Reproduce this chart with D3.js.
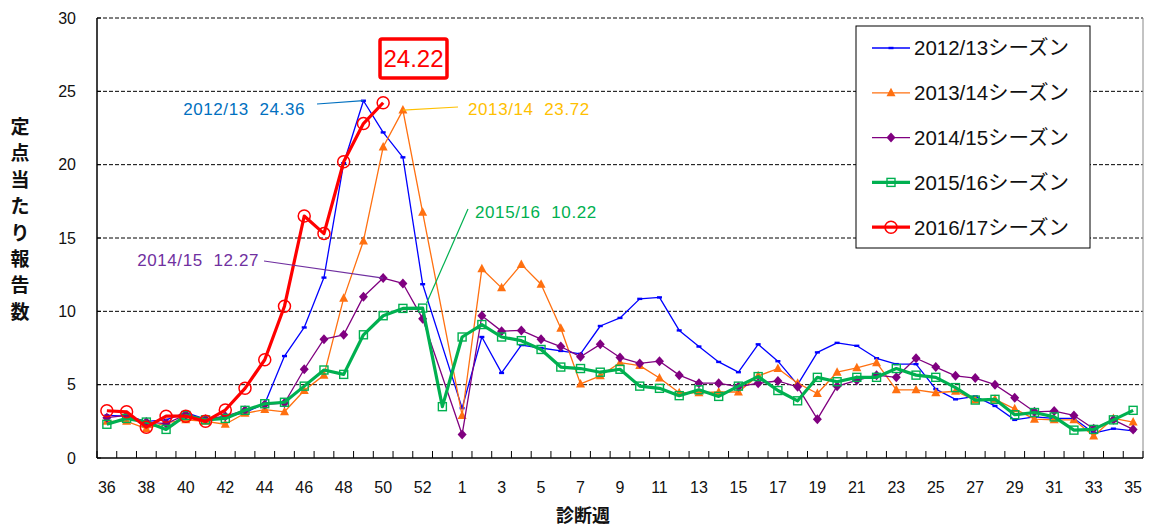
<!DOCTYPE html>
<html>
<head>
<meta charset="utf-8">
<script src="https://cdn.jsdelivr.net/npm/d3@7"></script>
<style>
  body { margin: 0; background: #fff; }
  svg { display: block; }
  text { font-family: "Liberation Sans", "Noto Sans CJK JP", sans-serif; }
</style>
</head>
<body>
<div id="chart"></div>
<script>
// week categories (2015/16 season had a week 53)
const weeks = ["36","37","38","39","40","41","42","43","44","45","46","47","48","49","50","51","52","53",
  "1","2","3","4","5","6","7","8","9","10","11","12","13","14","15","16","17","18","19","20",
  "21","22","23","24","25","26","27","28","29","30","31","32","33","34","35"];

const yTicks = [0, 5, 10, 15, 20, 25, 30];

// values per week, null = no report for that week
const s1213 = [2.9,2.85,2.5,2.6,3.1,2.65,2.8,3.1,3.7,6.95,8.9,12.3,20.1,24.36,22.2,20.5,11.85,null,
  3.4,8.25,5.8,7.7,7.5,7.3,7.1,9.0,9.55,10.85,10.95,8.7,7.6,6.55,5.85,7.75,6.6,5.0,7.2,7.85,
  7.65,6.8,6.4,6.4,4.7,4.0,4.2,3.55,2.6,2.8,2.7,2.7,1.7,2.0,1.85];
const s1314 = [2.5,2.5,2.0,2.4,2.6,2.5,2.3,3.05,3.3,3.15,4.6,5.65,10.9,14.8,21.2,23.72,16.75,null,
  2.9,12.9,11.6,13.2,11.85,8.85,5.05,5.6,6.5,6.3,5.45,4.45,4.45,4.5,4.5,5.6,6.1,5.1,4.4,5.85,
  6.15,6.5,4.65,4.65,4.45,4.55,3.95,4.0,3.35,2.65,2.6,2.6,1.5,2.7,2.45];
const s1415 = [2.75,2.9,2.45,2.35,2.95,2.65,2.85,3.25,3.65,3.75,6.05,8.1,8.4,11.0,12.27,11.9,9.5,null,
  1.6,9.7,8.65,8.7,8.1,7.6,6.9,7.75,6.85,6.45,6.6,5.65,5.1,5.1,4.85,5.1,5.25,4.85,2.65,4.9,
  5.3,5.65,5.5,6.8,6.2,5.6,5.45,5.0,4.1,3.15,3.2,2.9,2.0,2.6,1.95];
const s1516 = [2.3,2.7,2.45,1.95,2.9,2.6,2.7,3.25,3.7,3.8,4.9,6.0,5.7,8.4,9.7,10.2,10.22,3.5,
  8.25,9.1,8.25,8.0,7.4,6.2,6.1,5.85,6.05,4.9,4.75,4.25,4.65,4.2,4.9,5.55,4.6,3.9,5.5,5.2,
  5.5,5.5,6.1,5.65,5.5,4.8,3.95,4.0,2.95,3.1,2.8,1.9,1.95,2.6,3.25];
const s1617 = [3.22,3.15,2.1,2.85,2.85,2.5,3.27,4.75,6.7,10.35,16.5,15.3,20.2,22.8,24.22];

const seasons = ["2012/13シーズン","2013/14シーズン","2014/15シーズン","2015/16シーズン","2016/17シーズン"];

const seriesList = [
  {name: seasons[0], values: s1213, color: "#0000ff", width: 1.3, marker: "dash"},
  {name: seasons[1], values: s1314, color: "#ff7010", width: 1.3, marker: "triangle"},
  {name: seasons[2], values: s1415, color: "#800080", width: 1.3, marker: "diamond"},
  {name: seasons[3], values: s1516, color: "#00b050", width: 3.2, marker: "square"},
  {name: seasons[4], values: s1617, color: "#ff0000", width: 3.2, marker: "circle"}
];

const width = 1149, height = 528;
const plotLeft = 97, plotRight = 1143, plotTop = 18, plotBottom = 458;

const svg = d3.select('#chart')
  .append('svg')
  .attr('width', width)
  .attr('height', height);

const x = d3.scaleBand().domain(weeks).range([plotLeft, plotRight]);
const cx = w => x(w) + x.bandwidth() / 2;
const y = d3.scaleLinear().domain([0, 30]).range([plotBottom, plotTop]);

//dashed gridlines
svg.append('g')
  .selectAll('line')
  .data(yTicks.filter(t => t > 0))
  .join('line')
  .attr('x1', plotLeft).attr('x2', plotRight)
  .attr('y1', d => y(d)).attr('y2', d => y(d))
  .attr('stroke', '#000')
  .attr('stroke-width', 1)
  .attr('stroke-dasharray', '4,2');

//right border of plot area
svg.append('line')
  .attr('x1', plotRight).attr('x2', plotRight)
  .attr('y1', plotTop).attr('y2', plotBottom)
  .attr('stroke', '#888').attr('stroke-width', 1);

//axes lines
svg.append('line')
  .attr('x1', plotLeft).attr('x2', plotLeft).attr('y1', plotTop).attr('y2', plotBottom)
  .attr('stroke', '#000').attr('stroke-width', 1.5);
svg.append('line')
  .attr('x1', plotLeft).attr('x2', plotRight).attr('y1', plotBottom).attr('y2', plotBottom)
  .attr('stroke', '#000').attr('stroke-width', 1.5);

//y ticks and labels
svg.append('g')
  .selectAll('line')
  .data(yTicks)
  .join('line')
  .attr('x1', plotLeft).attr('x2', plotLeft + 4)
  .attr('y1', d => y(d)).attr('y2', d => y(d))
  .attr('stroke', '#000');
svg.append('g')
  .selectAll('text')
  .data(yTicks)
  .join('text')
  .attr('x', 76)
  .attr('y', d => y(d))
  .attr('dy', '0.36em')
  .attr('text-anchor', 'end')
  .attr('font-size', 16)
  .attr('fill', '#111')
  .text(d => d);

//x ticks between categories, pointing up
svg.append('g')
  .selectAll('line')
  .data(weeks.concat(['end']))
  .join('line')
  .attr('x1', (d, i) => plotLeft + i * x.bandwidth())
  .attr('x2', (d, i) => plotLeft + i * x.bandwidth())
  .attr('y1', plotBottom).attr('y2', plotBottom - 7)
  .attr('stroke', '#000');

//x labels, every second week
svg.append('g')
  .selectAll('text')
  .data(weeks.filter((w, i) => i % 2 === 0))
  .join('text')
  .attr('x', d => cx(d))
  .attr('y', 493)
  .attr('text-anchor', 'middle')
  .attr('font-size', 16)
  .attr('fill', '#111')
  .text(d => d);

//axis titles
svg.append('text')
  .attr('x', 583).attr('y', 522)
  .attr('text-anchor', 'middle')
  .attr('font-size', 18)
  .attr('font-weight', 'bold')
  .attr('fill', '#111')
  .text('診断週');

let yTitle = svg.append('text')
  .attr('text-anchor', 'middle')
  .attr('font-size', 19)
  .attr('font-weight', 'bold')
  .attr('fill', '#111');
Array.from('定点当たり報告数').forEach((ch, i) => {
  yTitle.append('tspan')
    .attr('x', 20)
    .attr('y', 134 + i * 26.4)
    .text(ch);
});

//marker drawing helper
function addMarker(g, type, color) {
  if (type === 'dash') {
    g.append('rect').attr('x', -2.5).attr('y', -1.2).attr('width', 5).attr('height', 2.4).attr('fill', color);
  } else if (type === 'triangle') {
    g.append('path').attr('d', 'M0,-5L4.5,3.5L-4.5,3.5Z').attr('fill', color);
  } else if (type === 'diamond') {
    g.append('path').attr('d', 'M0,-5L4.5,0L0,5L-4.5,0Z').attr('fill', color);
  } else if (type === 'square') {
    g.append('rect').attr('x', -4).attr('y', -4).attr('width', 8).attr('height', 8)
      .attr('fill', 'none').attr('stroke', color).attr('stroke-width', 1.4);
  } else if (type === 'circle') {
    g.append('circle').attr('r', 6).attr('fill', 'none').attr('stroke', color).attr('stroke-width', 1.5);
  }
}

//lines and markers, missing weeks are skipped and the line joins across them
const line = d3.line().x(d => cx(d.w)).y(d => y(d.v));

seriesList.forEach(s => {
  let pts = weeks.map((w, i) => ({w: w, v: s.values[i]}))
    .filter(d => d.v != null);
  let g = svg.append('g');
  g.append('path')
    .datum(pts)
    .attr('d', line)
    .attr('fill', 'none')
    .attr('stroke', s.color)
    .attr('stroke-width', s.width)
    .attr('stroke-linejoin', 'round');
  g.selectAll('.pt')
    .data(pts)
    .join('g')
    .attr('class', 'pt')
    .attr('transform', d => `translate(${cx(d.w)},${y(d.v)})`)
    .each(function() { addMarker(d3.select(this), s.marker, s.color); });
});

//peak annotations
const notes = [
  {text: '2012/13  24.36', color: '#0070c0', tx: 305, ty: 115, anchor: 'end', from: [317, 104], week: '49', value: 24.36},
  {text: '2013/14  23.72', color: '#ffc000', tx: 468, ty: 115, anchor: 'start', from: [458, 107], week: '51', value: 23.72},
  {text: '2014/15  12.27', color: '#7030a0', tx: 259, ty: 266, anchor: 'end', from: [264, 261], week: '50', value: 12.27},
  {text: '2015/16  10.22', color: '#00b050', tx: 475, ty: 218, anchor: 'start', from: [468, 209], week: '52', value: 10.22}
];
notes.forEach(n => {
  svg.append('line')
    .attr('x1', n.from[0]).attr('y1', n.from[1])
    .attr('x2', cx(n.week) + (n.week === '52' ? 4 : 0))
    .attr('y2', y(n.value) - (n.week === '52' ? 5 : 0))
    .attr('stroke', n.color).attr('stroke-width', 1.2);
  svg.append('text')
    .attr('x', n.tx).attr('y', n.ty)
    .attr('text-anchor', n.anchor)
    .attr('font-size', 17)
    .attr('letter-spacing', 0.6)
    .attr('fill', n.color)
    .attr('xml:space', 'preserve')
    .style('white-space', 'pre')
    .text(n.text);
});

//current season box
svg.append('rect')
  .attr('x', 380).attr('y', 39).attr('width', 67).attr('height', 39).attr('rx', 2)
  .attr('fill', '#fff').attr('stroke', '#ff0000').attr('stroke-width', 3.5);
svg.append('text')
  .attr('x', 413.5).attr('y', 67)
  .attr('text-anchor', 'middle')
  .attr('font-size', 24)
  .attr('fill', '#ff0000')
  .text(s1617[s1617.length - 1].toFixed(2));

//legend
const legend = svg.append('g');
legend.append('rect')
  .attr('x', 856).attr('y', 26).attr('width', 234).attr('height', 222)
  .attr('fill', '#fff').attr('stroke', '#000').attr('stroke-width', 1);
seriesList.forEach((s, i) => {
  let ly = 48 + i * 44.8;
  legend.append('line')
    .attr('x1', 872).attr('x2', 910).attr('y1', ly).attr('y2', ly)
    .attr('stroke', s.color).attr('stroke-width', s.width);
  let m = legend.append('g').attr('transform', `translate(891,${ly})`);
  addMarker(m, s.marker, s.color);
  legend.append('text')
    .attr('x', 914).attr('y', ly)
    .attr('dy', '0.36em')
    .attr('font-size', 20.5)
    .attr('fill', '#111')
    .text(s.name);
});
</script>
</body>
</html>
